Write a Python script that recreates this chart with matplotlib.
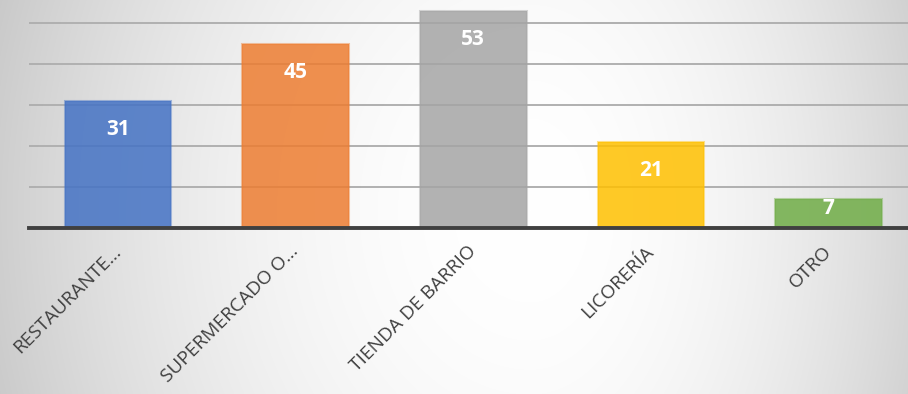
import numpy as np
import matplotlib
matplotlib.use("Agg")
import matplotlib.pyplot as plt
from matplotlib.colors import to_rgba

plt.rcParams['font.family'] = ['Open Sans', 'DejaVu Sans']

# Data
categories = ["RESTAURANTE…", "SUPERMERCADO O…", "TIENDA DE BARRIO", "LICORERÍA", "OTRO"]
values = [31, 45, 53, 21, 7]
bar_colors = ["#4472C4", "#ED7D31", "#A5A5A5", "#FFC000", "#70AD47"]

W, H = 908, 394
fig = plt.figure(figsize=(W / 100, H / 100), dpi=100)

# Soft radial background: white in the middle, grey towards the side edges
bg = fig.add_axes([0, 0, 1, 1], zorder=-10)
yy, xx = np.mgrid[0:H, 0:W].astype(float)
cx, cy = 530, 210
rx = np.where(xx < cx, 540.0, 420.0)
ry = 650.0
d2 = ((xx - cx) / rx) ** 2 + ((yy - cy) / ry) ** 2
shade = np.clip(1.0 - (50 / 255) * d2, 0.76, 1.0)
bg.imshow(np.dstack([shade] * 3), extent=[0, W, H, 0], aspect='auto')
bg.set_axis_off()

# Plot area
left_px, base_px, px_per_10 = 29, 228, 41
ax = fig.add_axes([left_px / W, (H - base_px) / H, 5 * 177.7 / W, base_px / H])
ax.patch.set_alpha(0)
ymax = base_px / px_per_10 * 10
ax.set_ylim(0, ymax)
ax.set_xlim(-0.5, len(categories) - 0.5)

for v in range(10, 60, 10):
    ax.axhline(v, color="#b0b0b0", lw=1.4, zorder=1)

x = np.arange(len(categories))
faces = [to_rgba(c, 0.85) for c in bar_colors]
edges = [to_rgba(c, 0.45) for c in bar_colors]
ax.bar(x, values, width=0.6, color=faces, edgecolor=edges, linewidth=1.5, zorder=2)

ax.axhline(0, color="#404040", lw=2.8, zorder=4, clip_on=False)

# Value labels inside the top of each bar
for xi, v in zip(x, values):
    bar_px = v * px_per_10 / 10
    off = min(29, bar_px - 19)
    ax.annotate(str(v), (xi, v), xytext=(0, -off * 0.72), textcoords='offset points',
                ha='center', va='center', color='white', fontsize=15,
                fontweight='bold', zorder=5)

ax.set_xticks(x)
ax.set_xticklabels(categories, rotation=45, ha='right', va='center',
                   rotation_mode='anchor', fontsize=13.8, color="#404040")
ax.tick_params(axis='x', length=0, pad=15)
ax.set_yticks([])
for s in ax.spines.values():
    s.set_visible(False)

fig.savefig("out.png", dpi=100)
